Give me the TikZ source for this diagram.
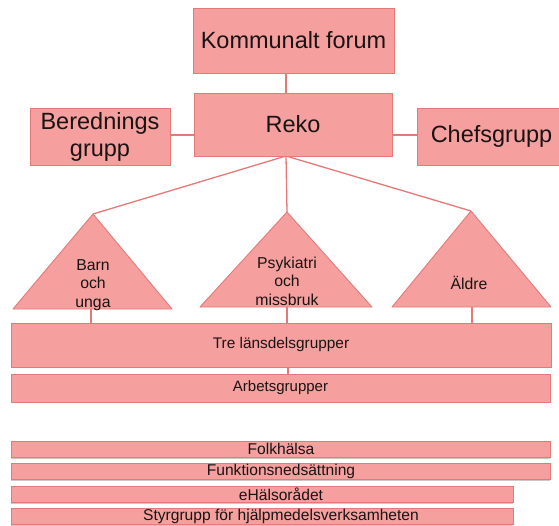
\documentclass[tikz,border=0pt]{standalone}
\usepackage{fontspec}
\setmainfont{Liberation Sans}
\usetikzlibrary{shadows}
\definecolor{boxfill}{RGB}{245,160,158}
\definecolor{boxline}{RGB}{231,120,120}
\definecolor{txt}{RGB}{25,20,20}
\begin{document}
\begin{tikzpicture}[x=1pt,y=-1pt,
  box/.style={draw=boxline, fill=boxfill, line width=1pt, inner sep=0pt, text=txt, align=center},
  big/.style={font=\fontsize{23.5}{27}\selectfont},
  bar/.style={box, line width=0.8pt, minimum height=16pt, drop shadow={shadow xshift=0pt, shadow yshift=-1.5pt, opacity=.3, fill=black!70}},
  bartext/.style={text=txt, inner sep=0pt, font=\fontsize{15.6}{18}\selectfont},
  conn/.style={draw=boxline, line width=1.3pt},
  tri/.style={draw=boxline, fill=boxfill, line width=0.9pt, line join=round},
  tritext/.style={text=txt, align=center, inner sep=0pt, font=\fontsize{15.8}{18.5}\selectfont}]
\useasboundingbox (0,0) rectangle (559,525);

% coordinates
\coordinate (rekofoot) at (286,156);
\coordinate (apexA) at (93,214);
\coordinate (apexB) at (287,212);
\coordinate (apexC) at (471,211);
\coordinate (baseA) at (91,309);
\coordinate (baseB) at (287,307);
\coordinate (baseC) at (472,307);

% connectors (drawn first)
\draw[conn] (rekofoot) -- (apexA);
\draw[conn] (rekofoot) -- (apexB);
\draw[conn] (rekofoot) -- (apexC);
\draw[conn] (286,73) -- (286,93);
\draw[conn] (170,135) -- (194,135);
\draw[conn] (392,135) -- (417,135);
\draw[conn] (baseA) -- (91,323);
\draw[conn] (baseB) -- (287,323);
\draw[conn] (baseC) -- (472,323);
\draw[conn] (288,367) -- (288,374);

% top boxes
\node[box, big, minimum width=201pt, minimum height=65pt] (kf) at (293.5,40.5) {Kommunalt forum};
\node[box, big, minimum width=198pt, minimum height=63pt] (reko) at (293,124.5) {Reko};
\node[box, big, minimum width=140pt, minimum height=57pt] (bered) at (100,136.5) {Berednings\\grupp};
\node[box, big, minimum width=149pt, minimum height=57pt] (chef) at (491.5,136.5) {Chefsgrupp};

% triangles
\draw[tri] (apexA) -- (172,309) -- (13,309) -- cycle;
\draw[tri] (apexB) -- (372,307) -- (200,307) -- cycle;
\draw[tri] (apexC) -- (551,307) -- (392,307) -- cycle;
\node[tritext] (barn) at (93,285) {Barn\\och\\unga};
\node[tritext] (psyk) at (287,281) {Psykiatri\\och\\missbruk};
\node[tritext] (aldre) at (469,283) {Äldre};

% group boxes
\node[box, font=\fontsize{15.4}{18}\selectfont, minimum width=540pt, minimum height=44pt] (tre) at (281,345) {Tre länsdelsgrupper};
\node[box, font=\fontsize{15}{18}\selectfont, minimum width=539pt, minimum height=28pt] (arb) at (280.5,388) {Arbetsgrupper};

% bars
\node[bar, minimum width=539pt] (folk) at (280.5,449) {};
\node[bar, minimum width=539pt] (funk) at (280.5,471) {};
\node[bar, minimum width=502pt] (ehals) at (262,494) {};
\node[bar, minimum width=502pt] (styr) at (262,516) {};
\node[bartext] (folkt) at (281,449) {Folkhälsa};
\node[bartext] (funkt) at (281,471) {Funktionsnedsättning};
\node[bartext] (ehalst) at (281,494) {eHälsorådet};
\node[bartext] (styrt) at (281,516) {Styrgrupp för hjälpmedelsverksamheten};
\end{tikzpicture}
\end{document}
